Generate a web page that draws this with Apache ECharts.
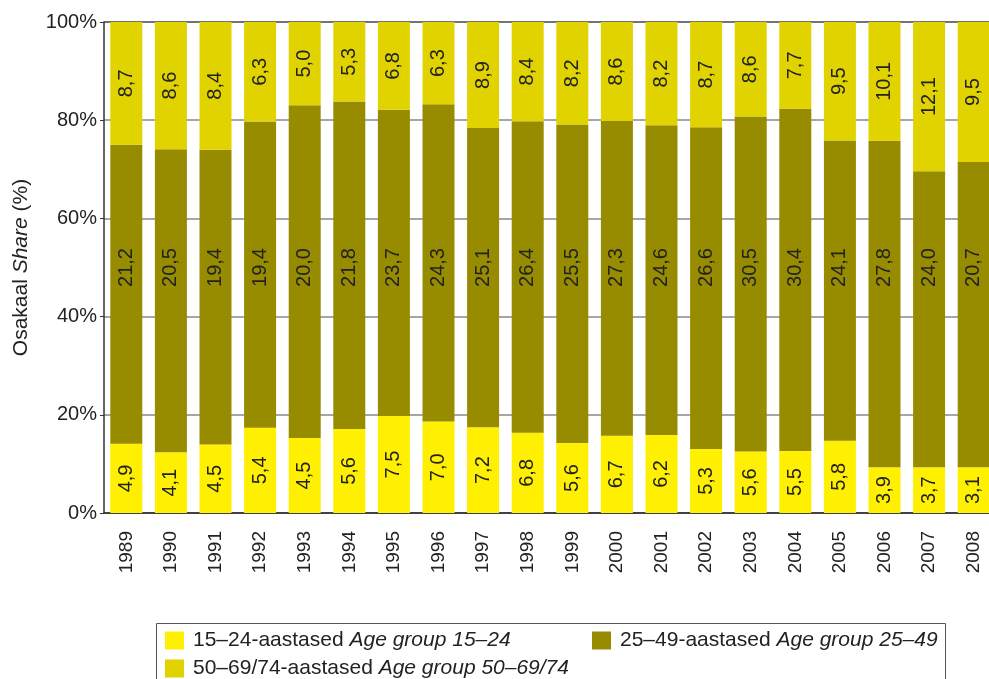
<!DOCTYPE html>
<html><head><meta charset="utf-8">
<script src="https://cdn.jsdelivr.net/npm/echarts@6/dist/echarts.min.js"></script>
<style>html,body{margin:0;padding:0;background:#fff}#c{width:989px;height:679px}</style>
</head><body><div id="c"></div>
<script>
const years = ['1989','1990','1991','1992','1993','1994','1995','1996','1997','1998','1999','2000','2001','2002','2003','2004','2005','2006','2007','2008'];
const age15_24 = [4.9,4.1,4.5,5.4,4.5,5.6,7.5,7.0,7.2,6.8,5.6,6.7,6.2,5.3,5.6,5.5,5.8,3.9,3.7,3.1];
const age25_49 = [21.2,20.5,19.4,19.4,20.0,21.8,23.7,24.3,25.1,26.4,25.5,27.3,24.6,26.6,30.5,30.4,24.1,27.8,24.0,20.7];
const age50_69 = [8.7,8.6,8.4,6.3,5.0,5.3,6.8,6.3,8.9,8.4,8.2,8.6,8.2,8.7,8.6,7.7,9.5,10.1,12.1,9.5];
const yTicks = [0,20,40,60,80,100];

const totals = years.map((_, i) => age15_24[i] + age25_49[i] + age50_69[i]);
const pct = arr => arr.map((v, i) => v / totals[i] * 100);
const fmt = v => v.toFixed(1).replace('.', ',');
const FONT = '"Liberation Sans", Arial, sans-serif';
// the original places the middle group's value labels on the 50% line
const MID_LABEL_LEVEL = 50;

const lbl = raw => ({
  show: true, rotate: 90, fontSize: 20, color: '#222', opacity: 1, fontFamily: FONT,
  formatter: p => fmt(raw[p.dataIndex])
});
function series(name, raw, color, showLabel) {
  return {
    name, type: 'bar', stack: 's', barWidth: 32,
    data: pct(raw),
    itemStyle: { color },
    label: showLabel ? Object.assign({ position: 'inside' }, lbl(raw)) : { show: false }
  };
}
const mkRich = (fs, pad) => ({
  n: { fontSize: fs, color: '#222', fontFamily: FONT, padding: [0, 0, 0, pad] },
  i: { fontSize: fs, color: '#222', fontFamily: FONT, fontStyle: 'italic' }
});
const names = {
  a: '15–24-aastased|Age group 15–24',
  b: '25–49-aastased|Age group 25–49',
  c: '50–69/74-aastased|Age group 50–69/74'
};
const legFmt = n => { const [e, g] = n.split('|'); return '{n|' + e + ' }{i|' + g + '}'; };
const leg = (d, left, top) => ({
  data: [d], left, top, itemWidth: 19, itemHeight: 18, padding: 0,
  icon: 'rect', formatter: legFmt, textStyle: { rich: mkRich(21, 4) }
});

const chart = echarts.init(document.getElementById('c'));
chart.setOption({
  animation: false,
  grid: { left: 104, width: 892, top: 22, bottom: 166, outerBoundsMode: 'none', containLabel: false },
  xAxis: {
    type: 'category', data: years,
    axisLine: { lineStyle: { color: '#333', width: 1.5 } },
    axisTick: { length: 5, lineStyle: { color: '#333' } },
    axisLabel: { rotate: 90, fontSize: 19, color: '#222', fontFamily: FONT, margin: 18 }
  },
  yAxis: {
    type: 'value', min: 0, max: 100, interval: 20,
    axisLine: { show: true, lineStyle: { color: '#333', width: 1.5 } },
    axisTick: { show: true, length: 4, lineStyle: { color: '#333' } },
    axisLabel: { fontSize: 20, color: '#222', fontFamily: FONT, margin: 7,
      formatter: v => yTicks.includes(v) ? v + '%' : '' },
    splitLine: { lineStyle: { color: ['#444', '#888', '#888', '#888', '#888', '#444'], width: 1.5 } },
    name: '{n|Osakaal }{i|Share}{n| (%)}',
    nameLocation: 'middle', nameRotate: 90, nameGap: 72,
    nameTextStyle: { rich: mkRich(21, 0) }
  },
  legend: [ leg(names.a, 165, 630), leg(names.b, 592, 630), leg(names.c, 165, 658) ],
  graphic: [{
    type: 'rect', left: 154, top: 621,
    shape: { width: 789, height: 80 },
    style: { fill: 'none', stroke: '#555', lineWidth: 1 }
  }],
  series: [
    series(names.a, age15_24, '#FFEF00', true),
    series(names.b, age25_49, '#978B00', false),
    series(names.c, age50_69, '#E1D300', true),
    {
      name: 'midLabels', type: 'scatter', symbolSize: 0, silent: true, z: 5,
      itemStyle: { opacity: 1, color: '#222' },
      data: years.map(() => MID_LABEL_LEVEL),
      label: Object.assign({ position: 'inside' }, lbl(age25_49))
    }
  ]
});
</script></body></html>
